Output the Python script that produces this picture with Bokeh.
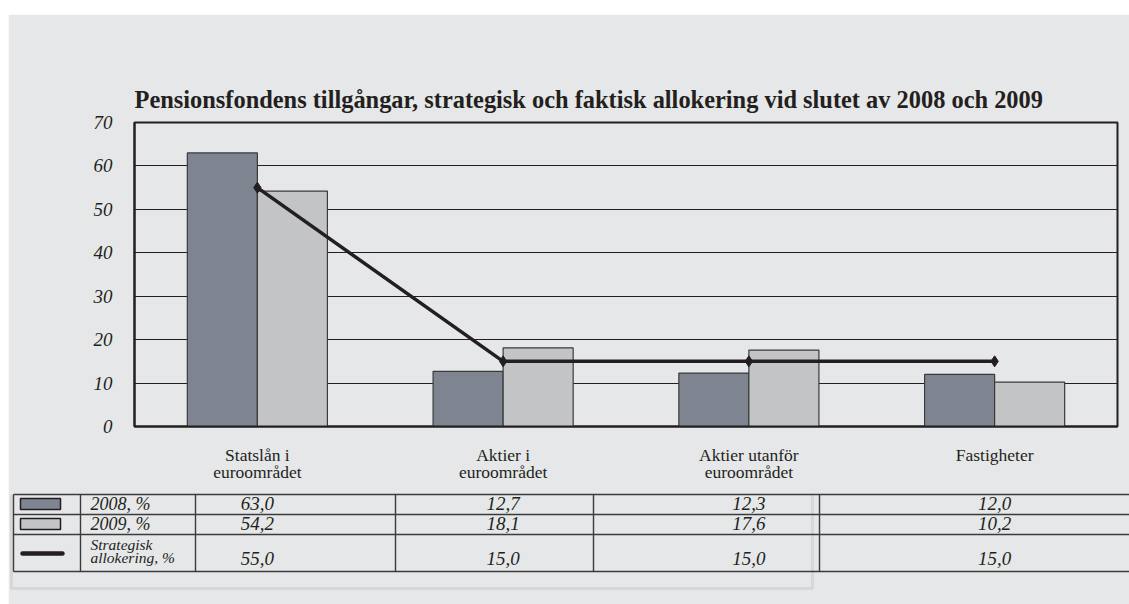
from bokeh.plotting import figure
from bokeh.layouts import column, row
from bokeh.models import Range1d, FixedTicker, Spacer, ColumnDataSource
from bokeh.core.properties import value
from bokeh.embed import file_html
from bokeh.resources import INLINE

# ---------------- data ----------------
title_text = "Pensionsfondens tillgångar, strategisk och faktisk allokering vid slutet av 2008 och 2009"
categories = ["Statslån i\neuroområdet", "Aktier i\neuroområdet",
              "Aktier utanför\neuroområdet", "Fastigheter"]
values_2008 = [63.0, 12.7, 12.3, 12.0]
values_2009 = [54.2, 18.1, 17.6, 10.2]
strategic = [55.0, 15.0, 15.0, 15.0]
series_labels = ["2008, %", "2009, %", "Strategisk\nallokering, %"]
y_ticks = [0, 10, 20, 30, 40, 50, 60, 70]

# ---------------- styles ----------------
BG = "#e6e7e8"
INK = "#231f20"
RULE = "#3b3a3c"
C2008 = "#7f8590"
C2009 = "#c3c4c6"
SERIF = "Liberation Serif"

# page geometry (grey panel starts at x=8, y=14)
PX0, PY0 = 8, 14
PAGE_W, PAGE_H = 1129, 604
FRAME_L, FRAME_R, FRAME_T, FRAME_B = 134, 1117, 122, 426
W, H = PAGE_W - PX0, PAGE_H - PY0

n = len(categories)
xpos = [i + 0.5 for i in range(n)]
BW = 0.285

src = ColumnDataSource(dict(x=xpos, x08=[x - BW / 2 for x in xpos], x09=[x + BW / 2 for x in xpos],
                            v2008=values_2008, v2009=values_2009, strat=strategic))

p = figure(width=W, height=H, x_range=Range1d(0, n), y_range=Range1d(0, 70),
           output_backend="svg", toolbar_location=None,
           min_border_left=FRAME_L - PX0, min_border_right=PAGE_W - FRAME_R,
           min_border_top=FRAME_T - PY0, min_border_bottom=PAGE_H - FRAME_B)
p.background_fill_color = BG
p.border_fill_color = BG
p.outline_line_color = INK
p.outline_line_width = 2

# page-pixel coordinate system for the table under the chart
p.extra_x_ranges = {"px": Range1d(FRAME_L, FRAME_R)}
p.extra_y_ranges = {"py": Range1d(FRAME_B, FRAME_T)}

p.title.text = title_text
p.title.text_font = SERIF
p.title.text_font_size = "24.4px"
p.title.text_font_style = "bold"
p.title.text_color = INK
p.title.align = "left"
p.title.offset = 0
p.title.standoff = 20

p.xgrid.grid_line_color = None
p.ygrid.ticker = FixedTicker(ticks=y_ticks)
p.ygrid.grid_line_color = INK
p.ygrid.grid_line_width = 1

p.yaxis.ticker = FixedTicker(ticks=y_ticks)
p.yaxis.axis_line_color = INK
p.yaxis.axis_line_width = 2
p.yaxis.major_tick_line_color = None
p.yaxis.minor_tick_line_color = None
p.yaxis.major_label_text_font = SERIF
p.yaxis.major_label_text_font_style = "italic"
p.yaxis.major_label_text_font_size = "19px"
p.yaxis.major_label_text_color = INK
p.yaxis.major_label_standoff = 16

p.xaxis.ticker = FixedTicker(ticks=xpos)
p.xaxis.major_label_overrides = {x: c for x, c in zip(xpos, categories)}
p.xaxis.axis_line_color = INK
p.xaxis.axis_line_width = 2
p.xaxis.major_tick_line_color = None
p.xaxis.minor_tick_line_color = None
p.xaxis.major_label_text_font = SERIF
p.xaxis.major_label_text_font_size = "17.5px"
p.xaxis.major_label_text_color = INK
p.xaxis.major_label_text_line_height = 0.85
p.xaxis.major_label_standoff = 12

p.vbar(x="x08", top="v2008", width=BW, bottom=0, source=src,
       fill_color=C2008, line_color="#3a3a3c", line_width=1.2)
p.vbar(x="x09", top="v2009", width=BW, bottom=0, source=src,
       fill_color=C2009, line_color="#3a3a3c", line_width=1.2)
p.line(x="x", y="strat", source=src, line_color=INK, line_width=3.5)
p.scatter(x="x", y="strat", source=src, marker="diamond", size=11,
          fill_color=INK, line_color=INK)

# ---------------- table below the chart ----------------
TBL = dict(x_range_name="px", y_range_name="py", level="overlay")

# faint outer frame
p.line(x=[11, 11, 812, 812], y=[494, 588, 588, 494], line_color="#d6d7d9", line_width=3, **TBL)

rows_y = [494, 514, 534, 571]
col_x = [13, 80, 195, 395, 593, 819]
p.segment(x0=[13] * 4, x1=[PAGE_W] * 4, y0=rows_y, y1=rows_y, line_color=RULE, line_width=1.6, **TBL)
p.segment(x0=col_x, x1=col_x, y0=[494] * len(col_x), y1=[571] * len(col_x),
          line_color=RULE, line_width=1.4, **TBL)

# legend keys
p.quad(left=[20, 20], right=[60, 60], top=[498, 518], bottom=[509, 529],
       fill_color=[C2008, C2009], line_color=INK, line_width=1.5, **TBL)
p.line(x=[22, 62], y=[553, 553], line_color=INK, line_width=4.5, line_cap="round", **TBL)

# series labels
p.text(x=[90, 90], y=[503, 523], text=series_labels[:2], text_font=value(SERIF),
       text_font_style="italic", text_font_size="18px", text_color=INK,
       text_align="left", text_baseline="middle", **TBL)
strat_lines = series_labels[2].split("\n")
p.text(x=[90, 90], y=[544, 557], text=strat_lines, text_font=value(SERIF),
       text_font_style="italic", text_font_size="15.5px", text_color=INK,
       text_align="left", text_baseline="middle", **TBL)

# values centred under categories (category centres in page pixels)
fw = (FRAME_R - FRAME_L) / n
cx = [FRAME_L + x * fw for x in xpos]
vals_x, vals_y, vals_t = [], [], []
for row_y, series in zip([503, 523, 558], [values_2008, values_2009, strategic]):
    for x, v in zip(cx, series):
        vals_x.append(x)
        vals_y.append(row_y)
        vals_t.append(f"{v:.1f}".replace(".", ","))
p.text(x=vals_x, y=vals_y, text=vals_t, text_font=value(SERIF), text_font_style="italic",
       text_font_size="19px", text_color=INK, text_align="center", text_baseline="middle", **TBL)

layout = column(Spacer(width=PAGE_W, height=PY0), row(Spacer(width=PX0, height=H), p, spacing=0), spacing=0)

open("out.html", "w").write(file_html(layout, INLINE))
